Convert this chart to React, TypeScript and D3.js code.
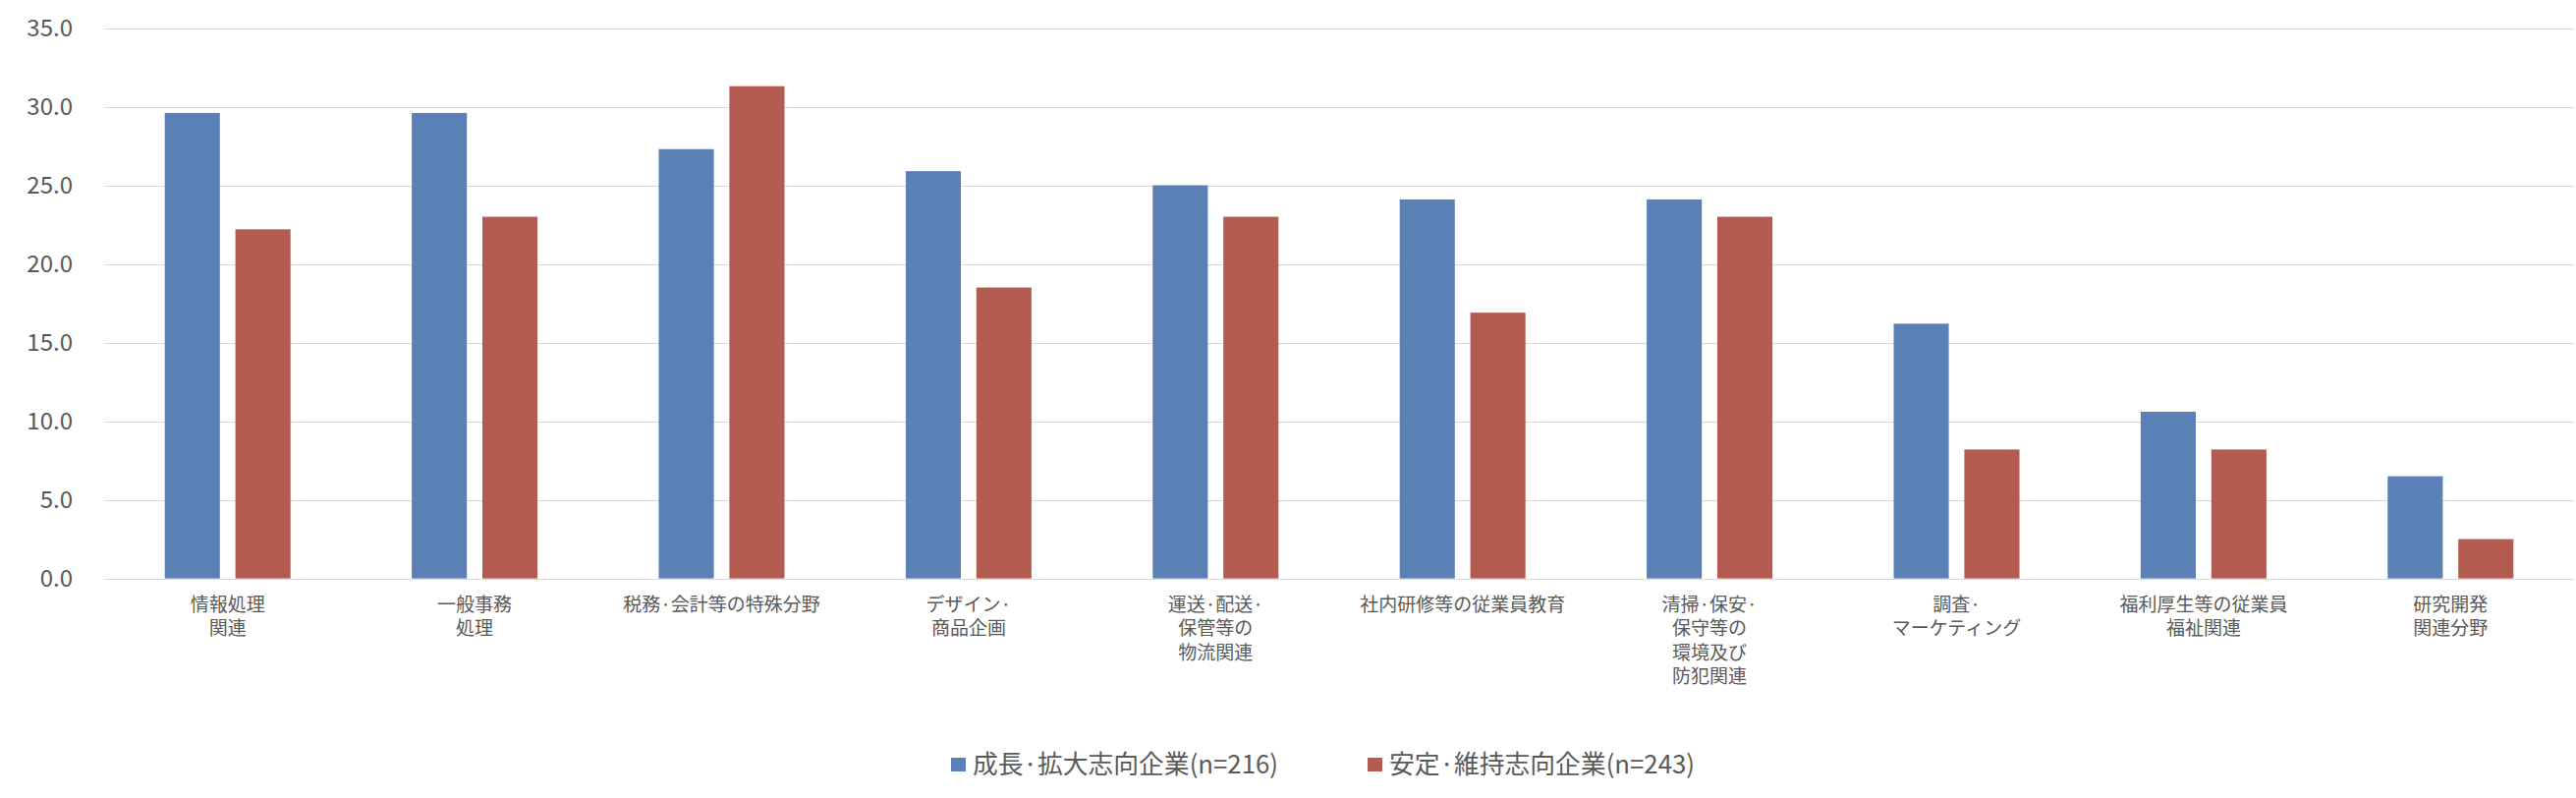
import React, { useEffect, useRef } from 'react';
import * as d3 from 'd3';

const categories = [
  '情報処理\n関連',
  '一般事務\n処理',
  '税務·会計等の特殊分野',
  'デザイン·\n商品企画',
  '運送·配送·\n保管等の\n物流関連',
  '社内研修等の従業員教育',
  '清掃·保安·\n保守等の\n環境及び\n防犯関連',
  '調査·\nマーケティング',
  '福利厚生等の従業員\n福祉関連',
  '研究開発\n関連分野',
];

const seriesNames = ['成長·拡大志向企業(n=216)', '安定·維持志向企業(n=243)'];
const growthValues = [29.6, 29.6, 27.3, 25.9, 25.0, 24.1, 24.1, 16.2, 10.6, 6.5];
const stableValues = [22.2, 23.0, 31.3, 18.5, 23.0, 16.9, 23.0, 8.2, 8.2, 2.5];
const yTicks = [0, 5, 10, 15, 20, 25, 30, 35];

const colors = ['#5b80b6', '#b35a51'];
const textColor = '#595959';
const font = '"Noto Sans CJK JP", "Noto Sans", sans-serif';

export default function App() {
  const svgRef = useRef<SVGSVGElement>(null);

  useEffect(() => {
    const width = 2622;
    const height = 812;
    const plot = { left: 106, right: 2620, top: 28.5, bottom: 588.6 };

    const svg = d3.select(svgRef.current);
    svg.selectAll('*').remove();

    const x0 = d3.scaleBand<number>()
      .domain(d3.range(categories.length))
      .range([plot.left, plot.right])
      .padding(0);

    const x1 = d3.scaleBand<number>()
      .domain([0, 1])
      .range([-64, 64])
      .paddingInner(0.22);

    const y = d3.scaleLinear()
      .domain([0, 35])
      .range([plot.bottom, plot.top]);

    // gridlines
    svg.append('g')
      .selectAll('line')
      .data(yTicks)
      .enter().append('line')
      .attr('x1', plot.left)
      .attr('x2', plot.right)
      .attr('y1', d => Math.round(y(d)) + 0.5)
      .attr('y2', d => Math.round(y(d)) + 0.5)
      .attr('stroke', '#d9d9d9')
      .attr('stroke-width', 1.2);

    // y tick labels
    svg.append('g')
      .selectAll('text')
      .data(yTicks)
      .enter().append('text')
      .attr('x', 74)
      .attr('y', d => y(d))
      .attr('dy', '0.35em')
      .attr('text-anchor', 'end')
      .attr('font-family', font)
      .attr('font-size', 24)
      .attr('fill', textColor)
      .text(d => d3.format('.1f')(d));

    // bars
    const series = [growthValues, stableValues];
    series.forEach((vals, si) => {
      svg.append('g')
        .selectAll('rect')
        .data(vals)
        .enter().append('rect')
        .attr('x', (d, i) => (x0(i) || 0) + x0.bandwidth() / 2 + (x1(si) || 0))
        .attr('width', x1.bandwidth())
        .attr('y', d => y(d))
        .attr('height', d => plot.bottom - y(d))
        .attr('fill', colors[si]);
    });

    // category labels
    const labels = svg.append('g')
      .selectAll('text')
      .data(categories)
      .enter().append('text')
      .attr('x', (d, i) => (x0(i) || 0) + x0.bandwidth() / 2)
      .attr('y', 622)
      .attr('text-anchor', 'middle')
      .attr('font-family', font)
      .attr('font-size', 19)
      .attr('fill', textColor);

    labels.each(function (d) {
      const t = d3.select(this);
      const cx = t.attr('x');
      d.split('\n').forEach((line, li) => {
        t.append('tspan')
          .attr('x', cx)
          .attr('dy', li === 0 ? 0 : 24.3)
          .text(line);
      });
    });

    // legend
    const legendX = [968, 1392];
    const legend = svg.append('g')
      .selectAll('g')
      .data(seriesNames)
      .enter().append('g')
      .attr('transform', (d, i) => `translate(${legendX[i]},778)`);

    legend.append('rect')
      .attr('x', 0)
      .attr('y', -7)
      .attr('width', 15)
      .attr('height', 14)
      .attr('fill', (d, i) => colors[i]);

    legend.append('text')
      .attr('x', 22)
      .attr('y', 0)
      .attr('dy', '0.36em')
      .attr('font-family', font)
      .attr('font-size', 26)
      .attr('fill', textColor)
      .attr('textLength', 311)
      .attr('lengthAdjust', 'spacingAndGlyphs')
      .text(d => d);

    svg.attr('width', width).attr('height', height);
  }, []);

  return (
    <div style={{ position: 'absolute', left: 0, top: 0, background: '#fff' }}>
      <svg ref={svgRef} width={2622} height={812} style={{ display: 'block' }}></svg>
    </div>
  );
}
